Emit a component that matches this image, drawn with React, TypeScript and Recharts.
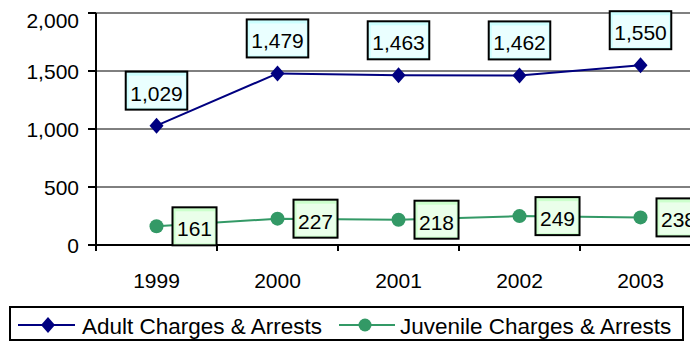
import { LineChart, Line, XAxis, YAxis, CartesianGrid, ReferenceLine, Legend } from "recharts"

const years = ["1999", "2000", "2001", "2002", "2003"]
const adult = [1029, 1479, 1463, 1462, 1550]
const juvenile = [161, 227, 218, 249, 238]
const yTicks = [0, 500, 1000, 1500, 2000]

const ADULT = "#000080"
const JUVENILE = "#339966"
const FONT = "'Liberation Sans', Arial, sans-serif"

const data = years.map((year, i) => ({ year, adult: adult[i], juvenile: juvenile[i] }))

const CHART_W = 720
const PLOT_LEFT = 96
const PLOT_RIGHT = 701
const HALF_STEP = (PLOT_RIGHT - PLOT_LEFT) / years.length / 2

const fmt = (v: number) => v.toLocaleString("en-US")

// rough Arial width so each label box fits its text
const textWidth = (s: string, size: number) =>
  s.split("").reduce((w, c) => w + (c === "," ? 0.278 : 0.556), 0) * size

const LabelBox = ({ cx, cy, text, fill, inner }: any) => {
  const w = textWidth(text, 21) + 9
  const h = 38
  return (
    <g>
      <rect x={cx - w / 2} y={cy - h / 2} width={w} height={h} fill={fill} stroke="#000" strokeWidth={2} />
      <rect x={cx - w / 2 + 3} y={cy - h / 2 + 4} width={w - 5} height={h - 6} fill={inner} />
      <text x={cx} y={cy + 10} textAnchor="middle" fontFamily={FONT} fontSize={21} fill="#000">
        {text}
      </text>
    </g>
  )
}

const adultLabel = ({ x, y, value }: any) => (
  <LabelBox cx={x} cy={y - 35} text={fmt(value)} fill="#ccffff" inner="#eaffff" />
)

const juvenileLabel = ({ x, y, value }: any) => {
  const text = fmt(value)
  const w = textWidth(text, 21) + 9
  return <LabelBox cx={x + 16 + w / 2} cy={y} text={text} fill="#ccffcc" inner="#eaffea" />
}

const Diamond = ({ cx, cy, key }: any) => (
  <path key={key} d={`M${cx},${cy - 8} L${cx + 7},${cy} L${cx},${cy + 8} L${cx - 7},${cy} Z`} fill={ADULT} />
)

const Circle = ({ cx, cy, key }: any) => <circle key={key} cx={cx} cy={cy} r={7} fill={JUVENILE} />

const XTick = ({ x, y, payload }: any) => (
  <g>
    <line x1={x - HALF_STEP} y1={y} x2={x - HALF_STEP} y2={y + 6} stroke="#000" strokeWidth={2} />
    <text x={x} y={y + 43} textAnchor="middle" fontFamily={FONT} fontSize={21} fill="#000">
      {payload.value}
    </text>
  </g>
)

const YTick = ({ x, y, payload }: any) => (
  <text x={x} y={Math.max(y, 20) + 7.5} textAnchor="end" fontFamily={FONT} fontSize={21} fill="#000">
    {fmt(payload.value)}
  </text>
)

const LegendBox = () => (
  <div style={{ width: 675, height: 35, boxSizing: "border-box", border: "2px solid #000", background: "#fff" }}>
    <svg width={671} height={31} style={{ display: "block" }}>
      <line x1={7} y1={17} x2={64} y2={17} stroke={ADULT} strokeWidth={2} />
      <Diamond cx={37} cy={17} />
      <text x={71} y={26} fontFamily={FONT} fontSize={22.5} fill="#000">
        Adult Charges &amp; Arrests
      </text>
      <line x1={328} y1={17} x2={384} y2={17} stroke={JUVENILE} strokeWidth={2} />
      <circle cx={354} cy={17} r={6.5} fill={JUVENILE} />
      <text x={389} y={26} fontFamily={FONT} fontSize={22.5} fill="#000">
        Juvenile Charges &amp; Arrests
      </text>
    </svg>
  </div>
)

export default function App() {
  return (
    <div style={{ position: "absolute", left: 0, top: 0, width: 690, height: 341, overflow: "hidden", background: "#fff" }}>
      <LineChart
        width={CHART_W}
        height={341}
        data={data}
        margin={{ top: 13, right: CHART_W - PLOT_RIGHT, left: 0, bottom: 0 }}
      >
        <CartesianGrid vertical={false} stroke="#000" strokeWidth={1} />
        <ReferenceLine y={2000} stroke="#808080" strokeWidth={2} />
        <XAxis
          dataKey="year"
          padding={{ left: HALF_STEP, right: HALF_STEP }}
          axisLine={{ stroke: "#000", strokeWidth: 2 }}
          tickLine={false}
          tickSize={0}
          tickMargin={0}
          height={61}
          tick={<XTick />}
          interval={0}
        />
        <YAxis
          domain={[0, 2000]}
          ticks={yTicks}
          width={PLOT_LEFT}
          axisLine={{ stroke: "#000", strokeWidth: 2 }}
          tickLine={{ stroke: "#000", strokeWidth: 2 }}
          tickSize={8}
          tickMargin={9}
          tick={<YTick />}
          interval={0}
        />
        <Legend
          verticalAlign="bottom"
          content={<LegendBox />}
          wrapperStyle={{ left: 9, width: 675, height: 35, bottom: 0 }}
        />
        <Line
          dataKey="adult"
          name="Adult Charges & Arrests"
          stroke={ADULT}
          strokeWidth={2}
          dot={Diamond}
          label={adultLabel}
          isAnimationActive={false}
        />
        <Line
          dataKey="juvenile"
          name="Juvenile Charges & Arrests"
          stroke={JUVENILE}
          strokeWidth={2}
          dot={Circle}
          label={juvenileLabel}
          isAnimationActive={false}
        />
      </LineChart>
    </div>
  )
}
